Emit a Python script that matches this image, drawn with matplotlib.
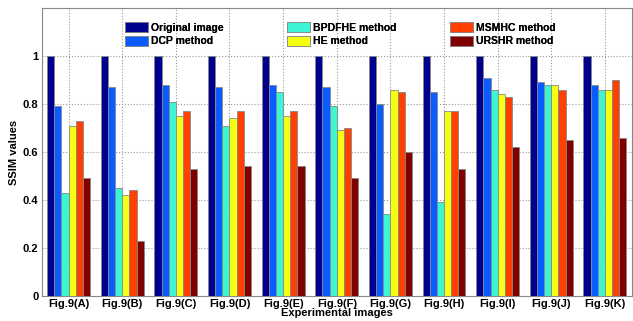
import matplotlib.pyplot as plt
import numpy as np

plt.rcParams['font.family'] = ['Liberation Sans', 'DejaVu Sans']
plt.rcParams['font.weight'] = 'bold'

# image labels and SSIM values per method
images = ['Fig.9(A)', 'Fig.9(B)', 'Fig.9(C)', 'Fig.9(D)', 'Fig.9(E)', 'Fig.9(F)',
          'Fig.9(G)', 'Fig.9(H)', 'Fig.9(I)', 'Fig.9(J)', 'Fig.9(K)']
methods = ['Original image', 'DCP method', 'BPDFHE method', 'HE method',
           'MSMHC method', 'URSHR method']
original = [1, 1, 1, 1, 1, 1, 1, 1, 1, 1, 1]
dcp = [0.79, 0.87, 0.88, 0.87, 0.88, 0.87, 0.80, 0.85, 0.91, 0.89, 0.88]
bpdfhe = [0.43, 0.45, 0.81, 0.71, 0.85, 0.79, 0.34, 0.39, 0.86, 0.88, 0.86]
he = [0.71, 0.42, 0.75, 0.74, 0.75, 0.69, 0.86, 0.77, 0.84, 0.88, 0.86]
msmhc = [0.73, 0.44, 0.77, 0.77, 0.77, 0.70, 0.85, 0.77, 0.83, 0.86, 0.90]
urshr = [0.49, 0.23, 0.53, 0.54, 0.54, 0.49, 0.60, 0.53, 0.62, 0.65, 0.66]
colors = ['#00008f', '#0a5cff', '#3cf5d2', '#f5ff14', '#ff4000', '#800000']

series = [original, dcp, bpdfhe, he, msmhc, urshr]

fig = plt.figure(figsize=(6.33, 3.21), dpi=100)
ax = fig.add_axes([0.066, 0.078, 0.932, 0.897])

x = np.arange(len(images))
n = len(series)
w = 0.8 / n
bars = []
for i, vals in enumerate(series):
    b = ax.bar(x - 0.4 + w * (i + 0.5), vals, width=w, color=colors[i],
               edgecolor='#888888', linewidth=0.6, label=methods[i], zorder=3)
    bars.append(b)

ax.set_xlim(-0.5, len(images) - 0.5)
ax.set_ylim(0, 1.2)
ax.set_yticks([0, 0.2, 0.4, 0.6, 0.8, 1])
ax.set_yticklabels(['0', '0.2', '0.4', '0.6', '0.8', '1'])
ax.set_xticks(x)
ax.set_xticklabels(images)
ax.tick_params(labelsize=8, length=0, pad=2.5)
ax.grid(True, linestyle=':', color='#999999', linewidth=0.8, zorder=0)
for s in ax.spines.values():
    s.set_color('#888888')
ax.set_xlabel('Experimental images', fontsize=8, fontweight='bold', labelpad=-1)
ax.set_ylabel('SSIM values', fontsize=8, fontweight='bold', labelpad=3)

# three legend blocks, two entries each
lx = [125, 287, 450]
for k in range(3):
    leg = fig.legend(bars[2 * k:2 * k + 2], methods[2 * k:2 * k + 2],
                     loc='upper left', bbox_to_anchor=(lx[k] / 633, 1 - 22 / 321),
                     frameon=False, fontsize=7.5, handlelength=2.2, handleheight=1.1,
                     labelspacing=0.3, handletextpad=0.3, borderpad=0, borderaxespad=0)
    fig.add_artist(leg)

fig.savefig('out.png', dpi=100)
